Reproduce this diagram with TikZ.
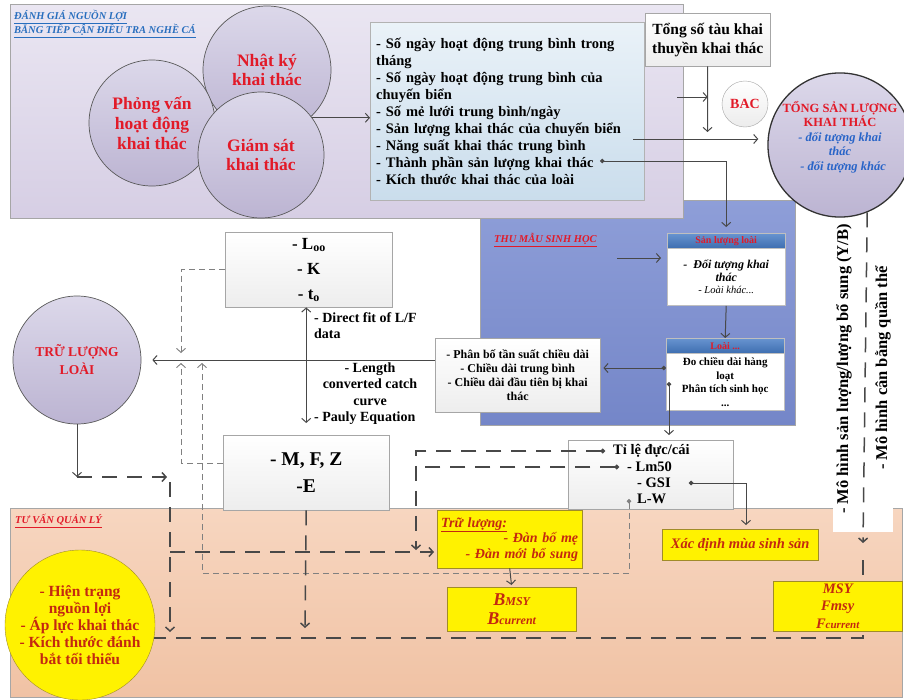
\documentclass[tikz,border=0pt]{standalone}
\usepackage{fontspec}
\setmainfont{Liberation Serif}[
  BoldFont={Liberation Serif Bold},
  ItalicFont={Liberation Serif Italic},
  BoldItalicFont={Liberation Serif Bold Italic}]
\usetikzlibrary{positioning, arrows.meta}
\definecolor{lavtop}{RGB}{234,230,242}
\definecolor{lavbot}{RGB}{214,206,228}
\definecolor{bubbletop}{RGB}{220,216,234}
\definecolor{bubblebot}{RGB}{188,180,210}
\definecolor{listtop}{RGB}{234,242,248}
\definecolor{listbot}{RGB}{202,221,236}
\definecolor{sampletop}{RGB}{142,158,216}
\definecolor{samplebot}{RGB}{116,134,200}
\definecolor{bandtop}{RGB}{104,148,208}
\definecolor{bandbot}{RGB}{62,110,176}
\definecolor{advicetop}{RGB}{247,214,192}
\definecolor{advicebot}{RGB}{240,194,164}
\definecolor{titlered}{RGB}{226,26,40}
\definecolor{advicered}{RGB}{196,40,16}
\definecolor{headblue}{RGB}{40,110,190}
\definecolor{tipblue}{RGB}{40,100,200}
\definecolor{goldedge}{RGB}{160,140,40}
\definecolor{wiregray}{RGB}{72,72,72}
\newcommand{\pxfont}[2]{\fontsize{#1}{#2}\selectfont}
\newcommand{\lowsub}[1]{\raisebox{-0.3ex}{\pxfont{12}{12}#1}}
\pgfdeclarelayer{bg}
\pgfdeclarelayer{wires}
\pgfsetlayers{bg,wires,main}

\begin{document}
\begin{tikzpicture}[x=1pt, y=-1pt,
  every node/.style={font=\bfseries},
  zone/.style={rectangle, draw=gray!70, line width=0.8pt, anchor=north west, inner sep=0pt},
  zonetitle/.style={text=#1, font=\pxfont{10.5}{14}\bfseries\itshape, inner sep=2pt, align=left},
  bubble/.style={circle, draw=gray!70!black, line width=0.7pt,
    top color=bubbletop, bottom color=bubblebot,
    text=titlered, align=center, inner sep=0pt, minimum size=#1},
  plainbox/.style={rectangle, draw=gray!70, top color=white, bottom color=gray!14,
    align=center, anchor=north west, inner sep=2pt},
  goldbox/.style={rectangle, draw=goldedge, fill=yellow, text=advicered,
    align=center, anchor=north west, inner sep=2pt},
  bandhead/.style={rectangle, draw=gray!50, top color=bandtop, bottom color=bandbot,
    text=titlered, font=\pxfont{10}{10}\bfseries, inner sep=1pt,
    minimum width=118pt, minimum height=15pt, anchor=north west},
  bandbody/.style={rectangle, draw=gray!50, fill=white, align=center, inner sep=2pt,
    minimum width=118pt, minimum height=57pt},
  note/.style={font=\pxfont{14}{16.5}\bfseries, inner sep=1pt},
  tag/.style={font=\pxfont{14.5}{16}\bfseries, inner xsep=8pt, inner ysep=1pt, anchor=west},
  arrow/.style={-{Straight Barb[length=4pt,width=9pt]}, line width=1pt, draw=#1},
  arrow/.default=wiregray,
  dotarrow/.style={{Circle[length=4.5pt]}-{Straight Barb[length=4pt,width=9pt]}, line width=1pt, draw=#1},
  dotarrow/.default=wiregray,
  thindash/.style={dash pattern=on 6pt off 4pt, line width=0.9pt, draw=gray},
  longdash/.style={dash pattern=on 15pt off 10pt, line width=1.5pt}
]
\useasboundingbox (0,0) rectangle (904,699);

% ── Zones ─────────────────────────────────────────────────────────────────────
\begin{pgfonlayer}{bg}
\fill[white] (0,0) rectangle (904,699);
\node[zone, top color=sampletop, bottom color=samplebot,
      minimum width=315pt, minimum height=225pt] (samplezone) at (480,200) {};
\node[zone, top color=lavtop, bottom color=lavbot,
      minimum width=673pt, minimum height=214pt] (surveyzone) at (10,4) {};
\node[zone, top color=advicetop, bottom color=advicebot,
      minimum width=892pt, minimum height=189pt] (advicezone) at (10,508) {};
\fill[white] (833,508) rectangle (893,532);
\end{pgfonlayer}

\node[zonetitle=headblue, anchor=north west] (surveytitle) at (12,8)
  {\underline{ĐÁNH GIÁ NGUỒN LỢI}\\\underline{BẰNG TIẾP CẬN ĐIỀU TRA NGHỀ CÁ}};
\node[zonetitle=titlered, anchor=west] (sampletitle) at (492,240)
  {\underline{THU MẪU SINH HỌC}};
\node[zonetitle=titlered, anchor=west] (advicetitle) at (13,521)
  {\underline{TƯ VẤN QUẢN LÝ}};

% ── Survey ────────────────────────────────────────────────────────────────────
\node[bubble=128pt, font=\pxfont{17.5}{19}\bfseries] (diary) at (267,70)
  {Nhật ký\\khai thác};
\node[bubble=126pt, font=\pxfont{17.5}{20}\bfseries] (interview) at (152,123)
  {Phỏng vấn\\hoạt động\\khai thác};
\node[bubble=126pt, font=\pxfont{17.5}{19}\bfseries] (monitor) at (261,155)
  {Giám sát\\khai thác};

\node[rectangle, draw=gray!60, top color=listtop, bottom color=listbot,
      text width=262pt, inner sep=6pt, minimum height=178pt, align=left,
      anchor=north west, font=\pxfont{14.5}{17}\bfseries]
  (measures) at (370,22)
  {- Số ngày hoạt động trung bình trong\\
   tháng\\
   - Số ngày hoạt động trung bình của\\
   chuyến biển\\
   - Số mẻ lưới trung bình/ngày\\
   - Sản lượng khai thác của chuyến biển\\
   - Năng suất khai thác trung bình\\
   - Thành phần sản lượng khai thác\\
   - Kích thước khai thác của loài};

\node[plainbox, minimum width=125pt, minimum height=53pt,
      font=\pxfont{15.5}{19}\bfseries] (fleet) at (645,13)
  {Tổng số tàu khai\\thuyền khai thác};

\node[circle, draw=gray!70, top color=white, bottom color=gray!15,
      minimum size=46pt, inner sep=0pt, text=titlered,
      font=\pxfont{14}{15}\bfseries] (bac) at (745,104) {BAC};

\node[bubble=124pt, draw=gray!40!black, line width=1.3pt,
      font=\pxfont{12.5}{14.5}\bfseries] (totalcatch) at (840,145)
  {TỔNG SẢN LƯỢNG\\KHAI THÁC\\
   {\color{tipblue}\itshape - đối tượng khai}\\
   {\color{tipblue}\itshape thác}\\
   {\color{tipblue}\itshape\ \ - đối tượng khác}\\[4pt]};

\node[rotate=90, font=\pxfont{16.5}{19}\bfseries] (yieldmodel) at (844,369)
  {- Mô hình sản lượng/lượng bổ sung (Y/B)};
\node[rotate=90, font=\pxfont{16.5}{19}\bfseries] (balancemodel) at (883,368)
  {- Mô hình cân bằng quần thể};

% ── Biological sampling ───────────────────────────────────────────────────────
\node[bandhead] (specieshead) at (667,233) {Sản lượng loài};
\node[bandbody, below=0pt of specieshead, font=\pxfont{12}{12.5}\bfseries\itshape]
  (species) {- \ Đối tượng khai\\thác\\{\mdseries\pxfont{10.5}{12}- Loài khác...}};

\node[bandhead] (taxonhead) at (666,338) {Loài ...};
\node[bandbody, below=0pt of taxonhead, font=\pxfont{11}{13.5}\bfseries]
  (taxon) {Đo chiều dài hàng\\loạt\\Phân tích sinh học\\...};

\node[plainbox, minimum width=165pt, minimum height=74pt,
      font=\pxfont{12}{14}\bfseries] (lengthfreq) at (435,338)
  {- Phân bố tần suất chiều dài\\- Chiều dài trung bình\\
   - Chiều dài đầu tiên bị khai\\thác};

\node[plainbox, minimum width=165pt, minimum height=69pt] (biology) at (568,440) {};
\node[tag] (sexratio) at (605,451) {Tỉ lệ đực/cái};
\node[tag] (lmfifty)  at (619,467) {- Lm50};
\node[tag] (gsi)      at (629,483) {- GSI};
\node[tag] (lw)       at (629,499) {L-W};

% ── Stock parameters ──────────────────────────────────────────────────────────
\node[bubble=128pt, font=\pxfont{13.5}{18}\bfseries] (speciesstock) at (77,360)
  {TRỮ LƯỢNG\\LOÀI};

\node[plainbox, minimum width=167pt, minimum height=75pt,
      font=\pxfont{17}{25}\bfseries] (growth) at (225,232)
  {- L\lowsub{oo}\\- K\\- t\lowsub{o}};

\node[plainbox, minimum width=166pt, minimum height=75pt,
      font=\pxfont{19.5}{27}\bfseries] (mortality) at (223,435)
  {- M, F, Z\\-E};

\node[note, anchor=north west, align=left] (fitnote) at (313,311)
  {- Direct fit of L/F\\data};
\node[note, fill=white, align=center] (curvenote) at (370,384)
  {- Length\\converted catch\\curve};
\node[note, anchor=west] (paulynote) at (313,418) {- Pauly Equation};

% ── Management advice ─────────────────────────────────────────────────────────
\node[goldbox, text width=137pt, minimum height=58pt, align=right, inner sep=4pt,
      font=\pxfont{14}{15.5}\bfseries\itshape] (stock) at (437,510)
  {\makebox[137pt][l]{\underline{Trữ lượng:}}\\- Đàn bố mẹ\\- Đàn mới bổ sung};

\node[goldbox, minimum width=129pt, minimum height=44pt,
      font=\pxfont{14}{19}\bfseries\itshape] (bref) at (447,587)
  {{\pxfont{18}{18}B}{\pxfont{12}{12}MSY}\\{\pxfont{18}{18}B}{\pxfont{12}{12}current}};

\node[goldbox, minimum width=156pt, minimum height=31pt,
      font=\pxfont{14.5}{14}\bfseries\itshape] (season) at (662,529)
  {Xác định mùa sinh sản};

\node[goldbox, minimum width=129pt, minimum height=50pt,
      font=\pxfont{14.5}{17.5}\bfseries\itshape] (msyref) at (773,581)
  {MSY\\Fmsy\\F{\pxfont{11}{12}current}};

\node[circle, draw=goldedge, fill=yellow, minimum size=150pt, inner sep=0pt,
      text=advicered, align=center, font=\pxfont{15.5}{17}\bfseries]
  (status) at (80,625)
  {- Hiện trạng\\nguồn lợi\\- Áp lực khai thác\\- Kích thước đánh\\bắt tối thiểu};

% free ends of connectors
\coordinate (c-feedbac) at (677,97);
\coordinate (c-intobac) at (707.5,132);
\coordinate (c-catchout) at (633,139);
\coordinate (c-composition) at (600,161);
\coordinate (c-samplefeed) at (617,258);
\coordinate (c-sizeout) at (666,368);
\coordinate (c-bioout) at (669,382);
\coordinate (c-dropgrowth) at (181,353);
\coordinate (c-risemort) at (181,363);
\coordinate (c-riselw) at (202,363);
\coordinate (c-lowline) at (202,573);
\coordinate (c-stockcorner) at (77,477);
\coordinate (c-stockturn) at (167,477);
\coordinate (c-colA) at (170,482);
\coordinate (c-baseA) at (170,632);
\coordinate (c-stockfeed) at (170,552);
\coordinate (c-stockdrop) at (416,550);
\coordinate (c-seasonin) at (746,525);
\coordinate (c-baseB) at (305,628);
\coordinate (c-msyin) at (863,543);
\coordinate (c-msyout) at (863,560);

% connectors (solid)
\draw[arrow] (monitor.36) -- (monitor.36 -| measures.west);
\draw[arrow] (fleet.south) -- (c-intobac);
\draw[arrow] (c-feedbac) -- (c-feedbac -| fleet.south);
\draw[arrow, shorten >=9pt] (c-catchout) -- (c-catchout -| totalcatch.west);
\draw[dotarrow, shorten >=6pt] (c-composition) -| (specieshead.north);
\draw[arrow, shorten >=6pt] (c-samplefeed) -- (c-samplefeed -| specieshead.west);
\draw[arrow] (species.south) -- (taxonhead.north);
\draw[dotarrow, shorten >=3pt] (c-sizeout) -- (c-sizeout -| lengthfreq.east);
\draw[dotarrow, shorten >=5pt] (c-bioout) -- (c-bioout |- biology.north);
\draw[{Straight Barb[length=4pt,width=9pt]}-{Straight Barb[length=4pt,width=9pt]},
      line width=1pt, wiregray, shorten >=12pt]
  (mortality.north |- growth.south) -- (mortality.north);
\draw[dotarrow] ([xshift=10pt]gsi.east) -| (c-seasonin);
\draw[arrow, shorten >=2pt] (stock.south) -- (bref.north);
\draw[arrow] (speciesstock.south) -- (c-stockcorner);

% connectors (dashed)
\draw[arrow=gray, thindash] (growth.west) -| (c-dropgrowth);
\draw[arrow=gray, thindash] ([yshift=9.5pt]mortality.west) -| (c-risemort);
\draw[dotarrow=gray, thindash] (lw.west) |- (c-lowline) -- (c-riselw);
\draw[arrow, longdash] (c-stockcorner) -- (c-stockturn);
\draw[arrow, longdash] (c-colA) -- (c-baseA);
\draw[arrow, longdash, shorten >=3pt] (c-stockfeed) -- (c-stockfeed -| stock.west);
\draw[dotarrow, longdash] (sexratio.west) -| (c-stockdrop);
\draw[{Circle[length=4.5pt]}-, line width=1pt, wiregray, longdash]
  (lmfifty.west) -- (lmfifty.west -| c-stockdrop);
\draw[arrow, longdash] (mortality.south) -- (c-baseB);
\draw[arrow, longdash] (totalcatch.-68) -- (c-msyin);

\begin{pgfonlayer}{wires}
\draw[arrow, shorten >=11pt] (lengthfreq.west |- speciesstock.east) -- (speciesstock.east);
\draw[line width=1.5pt, wiregray, longdash] (c-msyout) |- (status.-10);
\end{pgfonlayer}

\end{tikzpicture}
\end{document}
